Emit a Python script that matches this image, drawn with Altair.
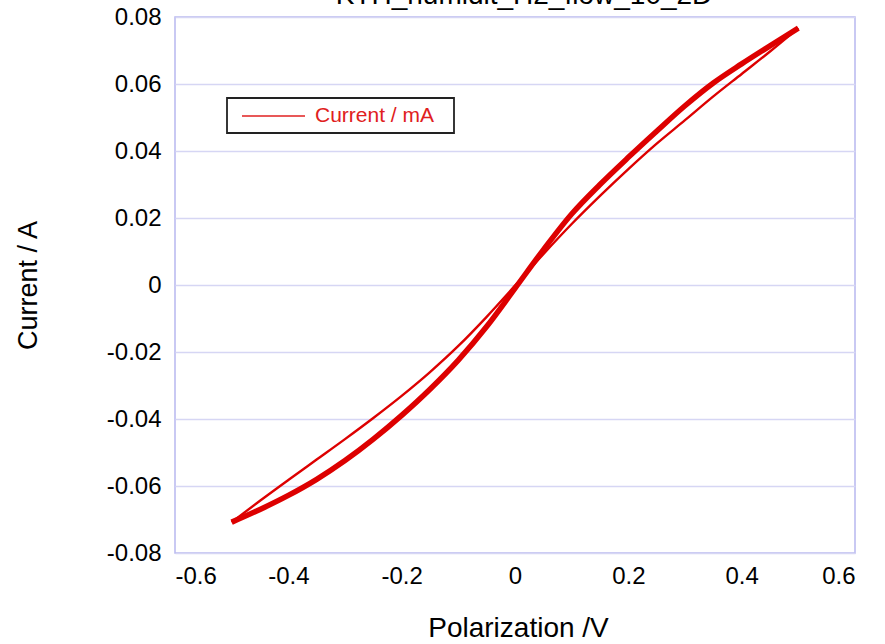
import altair as alt
import pandas as pd

# ---- text ----
title_text = "KTH_humidit_H2_flow_10_2D"
x_label = "Polarization /V"
y_label = "Current / A"
legend_label = ["Current / mA"]

# ---- data ----
potential = [-0.50, -0.45, -0.40, -0.35, -0.30, -0.25, -0.20, -0.15, -0.10, -0.05,
             0.00, 0.05, 0.10, 0.15, 0.20, 0.25, 0.30, 0.35, 0.40, 0.45, 0.50]
# thin branch
current_thin = [-0.0708, -0.0644, -0.0582, -0.0521, -0.0460, -0.0397, -0.0331, -0.0260,
                -0.0182, -0.0095, -0.0002, 0.0092, 0.0182, 0.0266, 0.0346, 0.0422,
                0.0492, 0.0563, 0.0630, 0.0697, 0.0767]
# thick branch (repeated cycles)
current_thick = [-0.0708, -0.0670, -0.0628, -0.0580, -0.0524, -0.0460, -0.0389, -0.0311,
                 -0.0224, -0.0124, -0.0010, 0.0105, 0.0212, 0.0300, 0.0381, 0.0459,
                 0.0535, 0.0603, 0.0660, 0.0714, 0.0767]

x_ticks = [-0.6, -0.4, -0.2, 0.0, 0.2, 0.4, 0.6]
y_ticks = [-0.08, -0.06, -0.04, -0.02, 0.0, 0.02, 0.04, 0.06, 0.08]

rows = []
for xv, yv in zip(potential, current_thin):
    rows.append({"branch": "thin", "x": xv, "y": yv})
for xv, yv in zip(potential, current_thick):
    rows.append({"branch": "thick", "x": xv, "y": yv})
df = pd.DataFrame(rows)

FONT = "Liberation Sans"
RED = "#dd0000"

xscale = alt.Scale(domain=[-0.6, 0.6], nice=False, zero=False)
yscale = alt.Scale(domain=[-0.08, 0.08], nice=False, zero=False)

lines = alt.Chart(df).mark_line(color=RED, interpolate="monotone").encode(
    x=alt.X("x:Q", scale=xscale,
            axis=alt.Axis(values=x_ticks, grid=False, ticks=False, domain=False,
                          labelExpr="datum.value == 0 ? '0' : replace(format(datum.value, '.1f'), '\u2212', '-')",
                          labelPadding=11, labelFontSize=24, labelFont=FONT, labelColor="black",
                          title=x_label, titleFont=FONT, titleFontSize=28, titleFontWeight="normal",
                          titleColor="black", titleX=343, titleY=75, titleAlign="center",
                          titleBaseline="middle")),
    y=alt.Y("y:Q", scale=yscale,
            axis=alt.Axis(values=y_ticks, grid=True, gridColor="#d6d6f4", gridWidth=1.5,
                          ticks=False, domain=False,
                          labelExpr="datum.value == 0 ? '0' : replace(format(datum.value, '.2f'), '\u2212', '-')",
                          labelPadding=14, labelFontSize=24, labelFont=FONT, labelColor="black",
                          title=y_label, titleFont=FONT, titleFontSize=27, titleFontWeight="normal",
                          titleColor="black", titleX=-147, titleY=268, titleAngle=270,
                          titleAlign="center", titleBaseline="middle")),
    detail="branch:N",
    order="x:Q",
    strokeWidth=alt.StrokeWidth("branch:N",
                                scale=alt.Scale(domain=["thin", "thick"], range=[2.4, 5.5]),
                                legend=None),
)

leg_df = pd.DataFrame({"label": legend_label})
leg_box = alt.Chart(leg_df).mark_rect(fill="white", stroke="#222222", strokeWidth=1.8).encode(
    x=alt.value(52), x2=alt.value(279), y=alt.value(81), y2=alt.value(116))
leg_line = alt.Chart(leg_df).mark_rule(color="#e02020", strokeWidth=1.5).encode(
    x=alt.value(67), x2=alt.value(130), y=alt.value(99))
leg_text = alt.Chart(leg_df).mark_text(align="left", baseline="middle", font=FONT,
                                       fontSize=21, color="#e02020").encode(
    x=alt.value(140), y=alt.value(99), text="label:N")

title_df = pd.DataFrame({"t": [title_text]})
title_mark = alt.Chart(title_df).mark_text(align="center", baseline="alphabetic", font=FONT,
                                           fontSize=28, color="black").encode(
    x=alt.value(349), y=alt.value(-13), text="t:N")

chart = alt.layer(lines, leg_box, leg_line, leg_text, title_mark).properties(
    width=680, height=536,
    autosize=alt.AutoSizeParams(type="none"),
    padding={"left": 175, "top": 17, "right": 30, "bottom": 91},
    background="white",
).configure_view(stroke="#b8b8f0", strokeWidth=1.5)

chart.save("out.html", embed_options={"renderer": "svg", "actions": False})
